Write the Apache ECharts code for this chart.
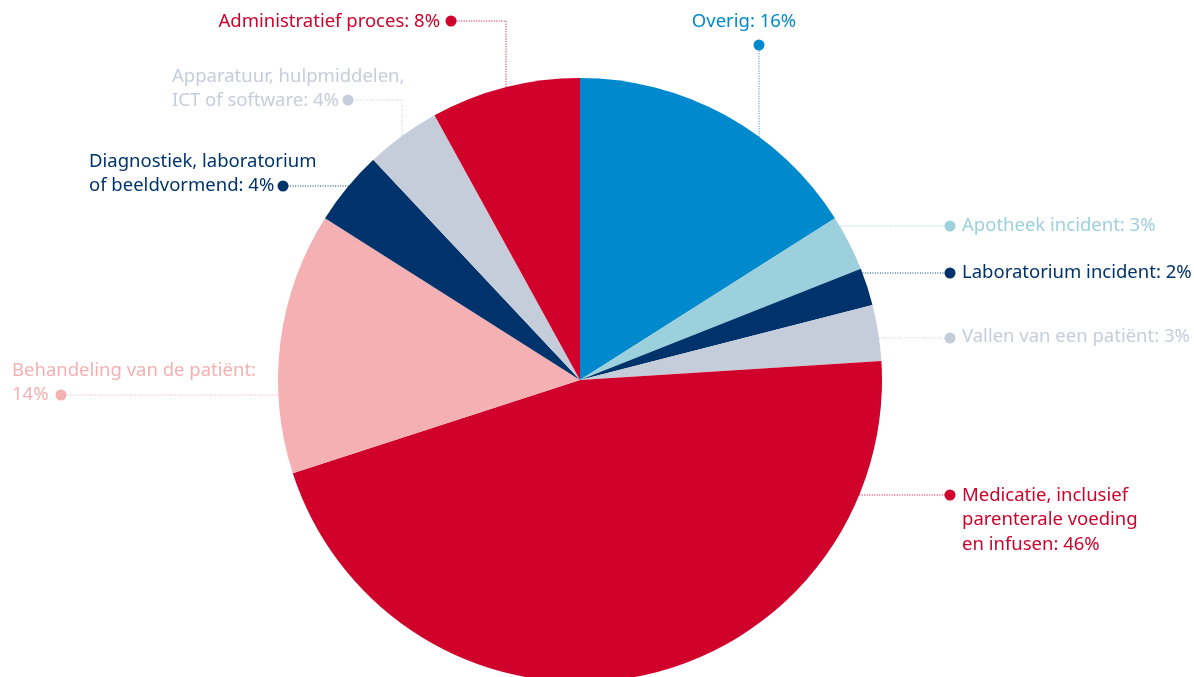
<!DOCTYPE html>
<html>
<head>
<meta charset="utf-8">
<script src="https://cdn.jsdelivr.net/npm/echarts@6/dist/echarts.min.js"></script>
<style>
  html, body { margin: 0; padding: 0; background: #fff; }
  #chart { width: 1194px; height: 677px; }
</style>
</head>
<body>
<div id="chart"></div>
<script>
// data (percent of incidents)
var names = [
  'Overig',
  'Apotheek incident',
  'Laboratorium incident',
  'Vallen van een patiënt',
  'Medicatie, inclusief\nparenterale voeding\nen infusen',
  'Behandeling van de patiënt:\n',
  'Diagnostiek, laboratorium\nof beeldvormend',
  'Apparatuur, hulpmiddelen,\nICT of software',
  'Administratief proces'
];
var values = [16, 3, 2, 3, 46, 14, 4, 4, 8];
var colors = ['#008acd', '#9dd0dd', '#00336b', '#c6cdda', '#d0022b', '#f4b0b3', '#00336b', '#c6cdda', '#d0022b'];

// label placement: text anchor, dot, and x of the vertical drop (if any)
var cx = 580, cy = 380, r = 302;
var spots = [
  { tx: 744, ty: 9,   align: 'center', dot: [759, 45],  ex: 759 },
  { tx: 962, ty: 213, align: 'left',   dot: [950, 226] },
  { tx: 962, ty: 260, align: 'left',   dot: [950, 273] },
  { tx: 962, ty: 324, align: 'left',   dot: [950, 338] },
  { tx: 962, ty: 483, align: 'left',   dot: [950, 495] },
  { tx: 12,  ty: 358, align: 'left',   dot: [61, 395] },
  { tx: 89,  ty: 149, align: 'left',   dot: [283, 186] },
  { tx: 172, ty: 64,  align: 'left',   dot: [348, 100], ex: 402 },
  { tx: 440, ty: 9,   align: 'right',  dot: [451, 21],  ex: 506 }
];

function edgePoint(s) {
  if (s.ex != null) {
    var dx = s.ex - cx;
    return [s.ex, cy - Math.sqrt(r * r - dx * dx)];
  }
  var dy = s.dot[1] - cy;
  var w = Math.sqrt(r * r - dy * dy);
  return [s.dot[0] > cx ? cx + w : cx - w, s.dot[1]];
}

var pieData = names.map(function (n, i) {
  return {
    name: n,
    value: values[i],
    itemStyle: { color: colors[i] },
    label: { color: colors[i] },
    labelLine: { lineStyle: { color: colors[i] } }
  };
});

var chart = echarts.init(document.getElementById('chart'));
chart.setOption({
  animation: false,
  graphic: spots.map(function (s, i) {
    return {
      type: 'circle',
      z: 100,
      shape: { cx: s.dot[0], cy: s.dot[1], r: 5.5 },
      style: { fill: colors[i] }
    };
  }),
  series: [{
    type: 'pie',
    center: [cx, cy],
    radius: r,
    startAngle: 90,
    clockwise: true,
    data: pieData,
    emphasis: { disabled: true },
    label: {
      show: true,
      position: 'outside',
      fontFamily: 'Noto Sans',
      fontSize: 18.5,
      lineHeight: 24.5,
      overflow: 'none',
      width: 400,
      formatter: function (p) {
        var n = p.name;
        if (n.slice(-1) === '\n') return n + p.value + '%';
        return n + ': ' + p.value + '%';
      }
    },
    labelLine: {
      show: true,
      lineStyle: { width: 1, type: [1, 1.5] }
    },
    labelLayout: function (p) {
      var s = spots[p.dataIndex];
      var e = edgePoint(s);
      var mid = s.ex != null ? [s.ex, s.dot[1]] : [(e[0] + s.dot[0]) / 2, s.dot[1]];
      return {
        x: s.tx,
        y: s.ty,
        align: s.align,
        verticalAlign: 'top',
        hideOverlap: false,
        moveOverlap: null,
        labelLinePoints: [e, mid, s.dot]
      };
    }
  }]
});
</script>
</body>
</html>
